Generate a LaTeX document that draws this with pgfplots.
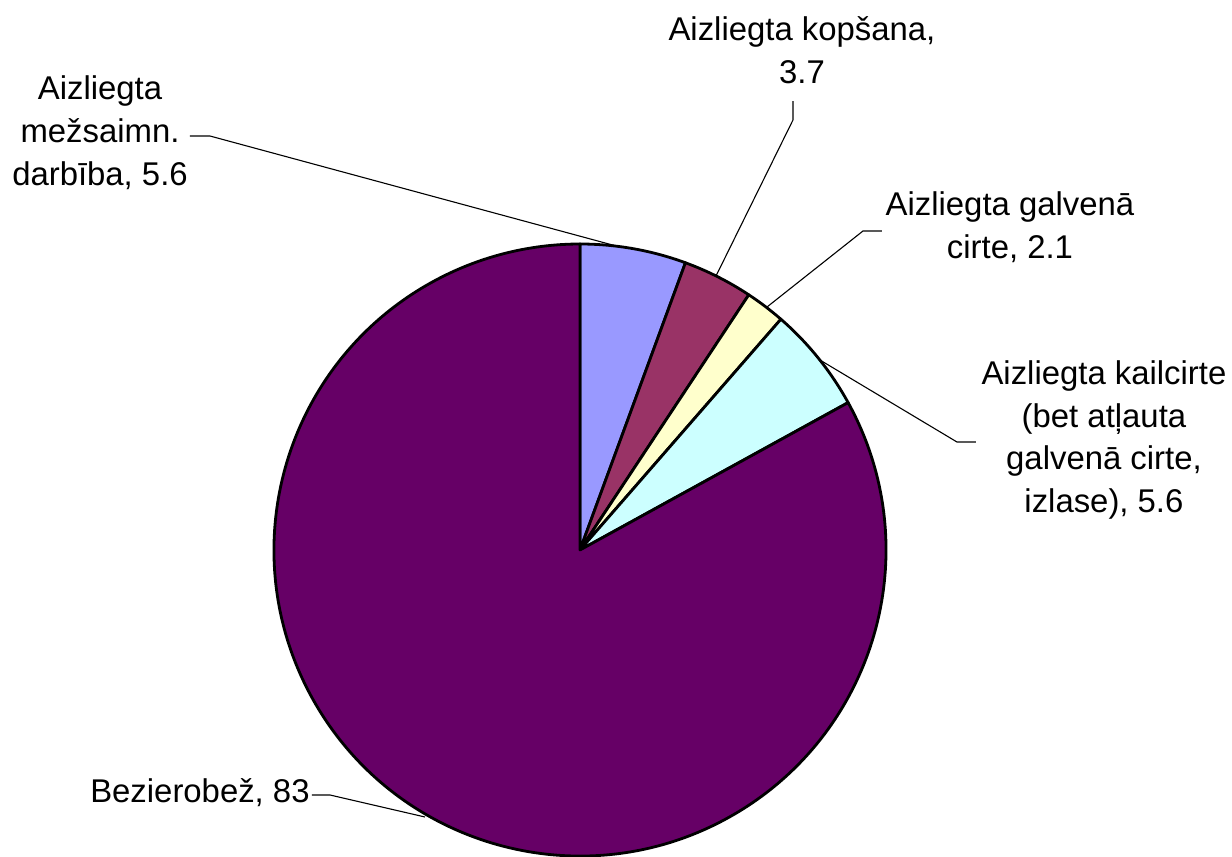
\documentclass[border=0pt]{standalone}
\usepackage{pgfplots}
\pgfplotsset{compat=1.18}
\usepackage{fontspec}
\setmainfont{Liberation Sans}

\definecolor{cA}{HTML}{9999FF}
\definecolor{cB}{HTML}{993366}
\definecolor{cC}{HTML}{FFFFCC}
\definecolor{cD}{HTML}{CCFFFF}
\definecolor{cE}{HTML}{660066}

% shares, percent
\def\vA{5.6}  % Aizliegta mezsaimn. darbiba
\def\vB{3.7}  % Aizliegta kopsana
\def\vC{2.1}  % Aizliegta galvena cirte
\def\vD{5.6}  % Aizliegta kailcirte
\def\vE{83}   % Bezierobez

\tikzset{lbl/.style={font=\fontsize{16.5}{21.5}\selectfont, align=center, inner sep=0pt},
  slice/.style={draw=black, line width=1.4bp, line join=round},
  lead/.style={line width=0.55bp}}

\begin{document}
\begin{tikzpicture}
  \pgfmathsetmacro\aA{90-3.6*\vA}
  \pgfmathsetmacro\aB{\aA-3.6*\vB}
  \pgfmathsetmacro\aC{\aB-3.6*\vC}
  \pgfmathsetmacro\aD{\aC-3.6*\vD}
  \pgfmathsetmacro\aE{\aD-3.6*\vE}
  \def\R{153bp}
  \begin{axis}[x=0.5bp, y=0.5bp, xmin=0, xmax=1232, ymin=0, ymax=857,
      hide axis, clip=false]
    \path (axis cs:0,0) rectangle (axis cs:1232,857);
    \filldraw[slice, fill=cA] (axis cs:580,307) -- ([shift={(90:\R)}]axis cs:580,307)
      arc[start angle=90, end angle=\aA, radius=\R] -- cycle;
    \filldraw[slice, fill=cB] (axis cs:580,307) -- ([shift={(\aA:\R)}]axis cs:580,307)
      arc[start angle=\aA, end angle=\aB, radius=\R] -- cycle;
    \filldraw[slice, fill=cC] (axis cs:580,307) -- ([shift={(\aB:\R)}]axis cs:580,307)
      arc[start angle=\aB, end angle=\aC, radius=\R] -- cycle;
    \filldraw[slice, fill=cD] (axis cs:580,307) -- ([shift={(\aC:\R)}]axis cs:580,307)
      arc[start angle=\aC, end angle=\aD, radius=\R] -- cycle;
    \filldraw[slice, fill=cE] (axis cs:580,307) -- ([shift={(\aD:\R)}]axis cs:580,307)
      arc[start angle=\aD, end angle=\aE, radius=\R] -- cycle;

    % leader lines
    \draw[lead] (axis cs:190,721) -- (axis cs:210,721) -- (axis cs:620,610);
    \draw[lead] (axis cs:793,756) -- (axis cs:793,737) -- (axis cs:716,581);
    \draw[lead] (axis cs:882,626) -- (axis cs:863,626) -- (axis cs:767,550);
    \draw[lead] (axis cs:976,415) -- (axis cs:957,415) -- (axis cs:820,497);
    \draw[lead] (axis cs:312,62) -- (axis cs:330,62) -- (axis cs:425,40);

    % labels
    \node[lbl] at (axis cs:100,724) {Aizliegta\\mežsaimn.\\darbība, 5.6};
    \node[lbl] at (axis cs:802,807) {Aizliegta kopšana,\\3.7};
    \node[lbl] at (axis cs:1010,630) {Aizliegta galvenā\\cirte, 2.1};
    \node[lbl] at (axis cs:1104,417) {Aizliegta kailcirte\\(bet atļauta\\galvenā cirte,\\izlase), 5.6};
    \node[lbl, anchor=east] at (axis cs:310,64) {Bezierobež, 83};
  \end{axis}
  \pgfresetboundingbox
  \path (0,0) rectangle (616bp,428.5bp);
\end{tikzpicture}
\end{document}
